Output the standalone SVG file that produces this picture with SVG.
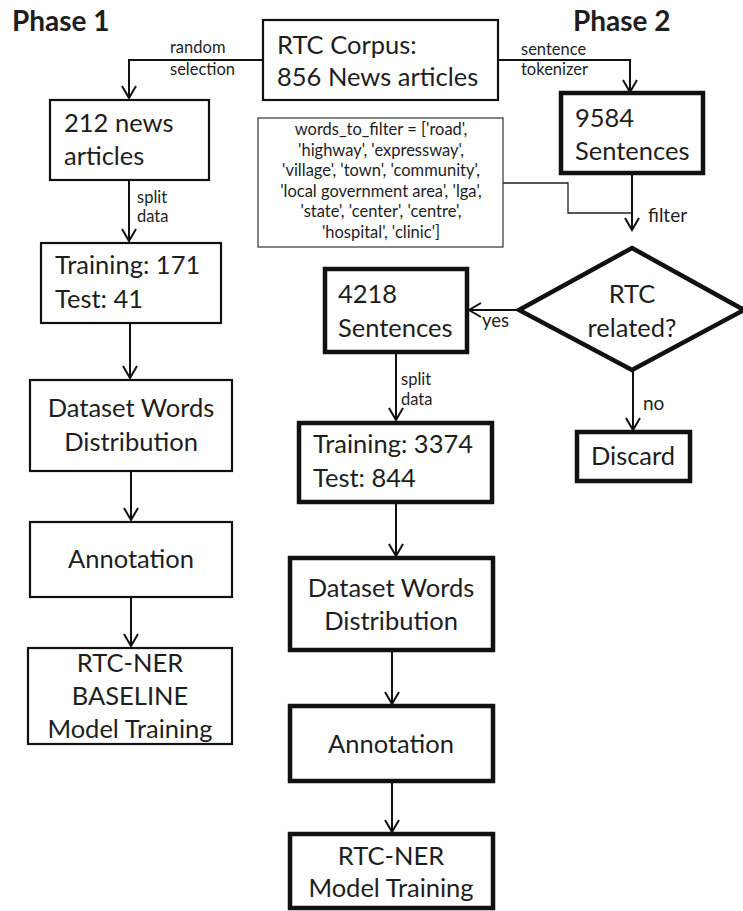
<svg xmlns="http://www.w3.org/2000/svg" width="743" height="911" viewBox="0 0 743 911">
<style>
  text { font-family: Lato, "Open Sans", "Liberation Sans", sans-serif; fill: #1e1e1e; }
  .title { font-size: 28px; font-weight: bold; }
  .lbl { font-size: 25.5px; }
  .mid { text-anchor: middle; }
  .small { font-size: 16.5px; }
  .big { font-size: 19px; }
  .code { font-size: 16.5px; text-anchor: middle; }
  .thin { fill: #fff; stroke: #111; stroke-width: 2.2; }
  .thick { fill: #fff; stroke: #111; stroke-width: 4.5; }
  .hair { fill: #fff; stroke: #333; stroke-width: 1.2; }
  .conn { fill: none; stroke: #111; stroke-width: 2; }
  .conn-thin { fill: none; stroke: #222; stroke-width: 1.3; }
</style>
<defs>
  <marker id="arr" markerUnits="userSpaceOnUse" markerWidth="20" markerHeight="20" viewBox="-14 -10 16 20" refX="0" refY="0" orient="auto" overflow="visible">
    <path d="M -12 -7 L 0 0 L -12 7" fill="none" stroke="#111" stroke-width="2"/>
  </marker>
</defs>
<rect width="743" height="911" fill="#fff"/>

<text class="title" x="12" y="31">Phase 1</text>
<text class="title" x="573" y="31">Phase 2</text>

<g id="connectors">
  <path class="conn" d="M263 60 H129 V98" marker-end="url(#arr)"/>
  <path class="conn" d="M498 60 H630 V92" marker-end="url(#arr)"/>
  <path class="conn" d="M129 180 V241" marker-end="url(#arr)"/>
  <path class="conn" d="M130 323 V378" marker-end="url(#arr)"/>
  <path class="conn" d="M131 471 V520" marker-end="url(#arr)"/>
  <path class="conn" d="M131 597 V646" marker-end="url(#arr)"/>
  <path class="conn" d="M632 173 V230" marker-end="url(#arr)"/>
  <path class="conn-thin" d="M503 183 H568 V213 H632"/>
  <path class="conn" d="M518 310 H469" marker-end="url(#arr)"/>
  <path class="conn" d="M633 370 V430" marker-end="url(#arr)"/>
  <path class="conn" d="M396 352 V420" marker-end="url(#arr)"/>
  <path class="conn" d="M396 502 V556" marker-end="url(#arr)"/>
  <path class="conn" d="M392 650 V704" marker-end="url(#arr)"/>
  <path class="conn" d="M392 781 V832" marker-end="url(#arr)"/>
  <text class="small" x="170" y="53">random</text>
  <text class="small" x="170" y="75">selection</text>
  <text class="small" x="521" y="55">sentence</text>
  <text class="small" x="521" y="75">tokenizer</text>
  <text class="small" x="137" y="203">split</text>
  <text class="small" x="137" y="222">data</text>
  <text class="big" x="648" y="222">filter</text>
  <text class="small" x="482" y="327" style="font-size:18.5px">yes</text>
  <text class="small" x="401" y="385">split</text>
  <text class="small" x="401" y="405">data</text>
  <text class="big" x="643" y="410">no</text>
</g>

<g id="corpus">
  <rect class="thin" x="263" y="20" width="235" height="80"/>
  <text class="lbl" x="277" y="54">RTC Corpus:</text>
  <text class="lbl" x="277" y="86">856 News articles</text>
</g>

<g id="news212">
  <rect class="thin" x="50" y="100" width="159" height="80"/>
  <text class="lbl" x="64" y="132">212 news</text>
  <text class="lbl" x="64" y="165">articles</text>
</g>

<g id="split1">
  <rect class="thin" x="41" y="243" width="180" height="80"/>
  <text class="lbl" x="55" y="274">Training: 171</text>
  <text class="lbl" x="55" y="308">Test: 41</text>
</g>

<g id="dist1">
  <rect class="thin" x="30" y="380" width="202" height="91"/>
  <text class="lbl mid" x="131" y="417">Dataset Words</text>
  <text class="lbl mid" x="131" y="451">Distribution</text>
</g>

<g id="annot1">
  <rect class="thin" x="30" y="522" width="202" height="75"/>
  <text class="lbl mid" x="131" y="568">Annotation</text>
</g>

<g id="train1">
  <rect class="thin" x="28" y="648" width="204" height="96"/>
  <text class="lbl mid" x="130" y="672">RTC-NER</text>
  <text class="lbl mid" x="130" y="705">BASELINE</text>
  <text class="lbl mid" x="130" y="738">Model Training</text>
</g>

<g id="sent9584">
  <rect class="thick" x="561" y="93" width="142" height="80"/>
  <text class="lbl" x="575" y="127">9584</text>
  <text class="lbl" x="575" y="160">Sentences</text>
</g>

<g id="wordsfilter">
  <rect class="hair" x="258" y="118" width="245" height="129"/>
  <text class="code" x="381" y="135">words_to_filter = ['road',</text>
  <text class="code" x="381" y="155.5">'highway',  'expressway',</text>
  <text class="code" x="381" y="176">'village', 'town', 'community',</text>
  <text class="code" x="381" y="196.5">'local government area', 'lga',</text>
  <text class="code" x="381" y="217">'state', 'center', 'centre',</text>
  <text class="code" x="381" y="237.5">'hospital', 'clinic']</text>
</g>

<g id="decision">
  <polygon class="thick" points="632,248 744,310 632,370 519,310"/>
  <text class="lbl mid" x="632" y="303">RTC</text>
  <text class="lbl mid" x="632" y="337">related?</text>
</g>

<g id="sent4218">
  <rect class="thick" x="325" y="269" width="142" height="83"/>
  <text class="lbl" x="338" y="303">4218</text>
  <text class="lbl" x="338" y="337">Sentences</text>
</g>

<g id="discard">
  <rect class="thick" x="577" y="432" width="113" height="49"/>
  <text class="lbl mid" x="633" y="465">Discard</text>
</g>

<g id="split2">
  <rect class="thick" x="299" y="423" width="193" height="79"/>
  <text class="lbl" x="313" y="453">Training: 3374</text>
  <text class="lbl" x="313" y="487">Test: 844</text>
</g>

<g id="dist2">
  <rect class="thick" x="290" y="558" width="203" height="92"/>
  <text class="lbl mid" x="391" y="597">Dataset Words</text>
  <text class="lbl mid" x="391" y="630">Distribution</text>
</g>

<g id="annot2">
  <rect class="thick" x="290" y="706" width="203" height="75"/>
  <text class="lbl mid" x="391" y="753">Annotation</text>
</g>

<g id="train2">
  <rect class="thick" x="290" y="834" width="203" height="74"/>
  <text class="lbl mid" x="391" y="865">RTC-NER</text>
  <text class="lbl mid" x="391" y="897">Model Training</text>
</g>
</svg>
